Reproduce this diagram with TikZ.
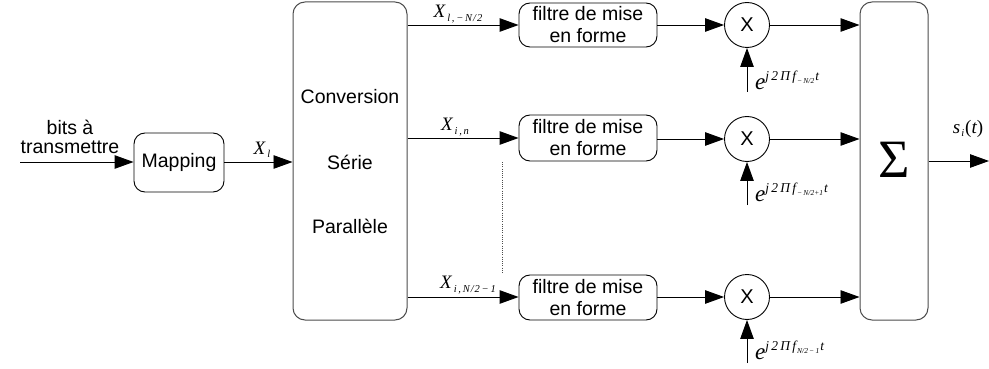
\documentclass[tikz,border=0pt]{standalone}
\usepackage{fontspec}
\setmainfont{Liberation Sans}
\newfontfamily\tms{Liberation Serif}
\usetikzlibrary{arrows.meta}
\newcommand\xlab[1]{{\tms\itshape\fontsize{19}{19}\selectfont X\kern2pt\raisebox{-3.5pt}{\fontsize{10.5}{10.5}\selectfont #1}}}
\newcommand\elab[1]{{\tms\itshape\fontsize{23}{23}\selectfont e\raisebox{9pt}{\fontsize{13.5}{13.5}\selectfont j\,2\,Π\,f\kern1pt\raisebox{-3pt}{\fontsize{7.5}{7.5}\selectfont #1}\kern1pt t}}}
\begin{document}
\begin{tikzpicture}[x=1pt,y=-1pt,
  ln/.style={line width=0.9pt},
  arr/.style={ln,-{Triangle[length=19pt,width=13.5pt]}},
  blk/.style={draw,line width=0.9pt,rounded corners=11pt,font=\fontsize{19.5}{22}\selectfont,align=center,inner sep=0pt},
  big/.style={draw=black!70,line width=1pt,rounded corners=12pt,inner sep=0pt,minimum width=114pt,minimum height=318pt},
  mult/.style={draw,circle,line width=0.9pt,minimum size=45pt,inner sep=0pt,font=\fontsize{20}{20}\selectfont},
  lab/.style={inner sep=0pt}]
\useasboundingbox (0,0) rectangle (989,369);
% input
\node[lab,font=\fontsize{19.5}{19}\selectfont,align=center] (bits) at (70,137) {bits à\\transmettre};
\coordinate (in) at (20,162);
\node[blk,minimum width=90pt,minimum height=59pt] (map) at (179,162.5) {Mapping};
\node[big] (conv) at (350,161) {};
\node[lab,font=\fontsize{19.5}{22}\selectfont] (t1) at (350,97) {Conversion};
\node[lab,font=\fontsize{19.5}{22}\selectfont] (t2) at (350,162) {Série};
\node[lab,font=\fontsize{19.5}{22}\selectfont] (t3) at (350,226) {Parallèle};
\draw[arr] (in) -- (map.west |- in);
\draw[arr] (map.east |- in) -- (conv.west |- in);
\node[lab] (xl) at (262,150) {\xlab{l}};
% filters
\node[blk,minimum width=138pt,minimum height=44pt] (f1) at (588,25) {filtre de mise\\en forme};
\node[blk,minimum width=138pt,minimum height=46pt] (f2) at (588,138) {filtre de mise\\en forme};
\node[blk,minimum width=138pt,minimum height=45pt] (f3) at (588,297.5) {filtre de mise\\en forme};
\coordinate (c1) at (conv.east |- 0,25);
\coordinate (c2) at (conv.east |- 0,138);
\coordinate (c3) at (conv.east |- 0,297);
\draw[arr] (c1) -- (f1.west |- c1);
\draw[arr] (c2) -- (f2.west |- c2);
\draw[arr] (c3) -- (f3.west |- c3);
\node[lab] (x1) at (458,14) {\xlab{l\,,\,−\,N\kern1pt/\kern1pt2}};
\node[lab] (x2) at (455,127) {\xlab{i\,,\,n}};
\node[lab] (x3) at (468,285) {\xlab{i\,,\,N\kern1pt/\kern1pt2\,−\,1}};
\coordinate (d1) at (502,162);
\coordinate (d2) at (502,274);
\draw[line width=0.9pt,black!70,dash pattern=on 1pt off 1.2pt] (d1) -- (d2);
% multipliers
\node[mult] (m1) at (747,25) {X};
\node[mult] (m2) at (747,139) {X};
\node[mult] (m3) at (747,297) {X};
\draw[arr] (f1.east) -- (m1.west);
\draw[arr] (f2.east |- m2) -- (m2.west);
\draw[arr] (f3.east |- m3) -- (m3.west);
\coordinate (e1) at (747,92);
\coordinate (e2) at (747,205);
\coordinate (e3) at (747,363);
\draw[arr] (e1) -- (m1.south);
\draw[arr] (e2) -- (m2.south);
\draw[arr] (e3) -- (m3.south);
\node[lab,anchor=west] (l1) at (755,80) {\elab{−\,N/2}};
\node[lab,anchor=west] (l2) at (755,192) {\elab{−\,N/2+1}};
\node[lab,anchor=west] (l3) at (755,350) {\elab{N/2\,−\,1}};
% sum
\node[big,minimum width=68pt] (sum) at (894,161) {};
\node[lab,font=\tms\fontsize{54}{54}\selectfont] (sig) at (894,160) {Σ};
\draw[arr] (m1.east) -- (sum.west |- m1);
\draw[arr] (m2.east) -- (sum.west |- m2);
\draw[arr] (m3.east) -- (sum.west |- m3);
\coordinate (out) at (989,161);
\draw[arr] (sum.east |- out) -- (out);
\node[lab] (sl) at (968,129) {{\tms\itshape\fontsize{19}{19}\selectfont s\kern1pt\raisebox{-3pt}{\fontsize{10.5}{10.5}\selectfont i}\kern1pt\upshape(\itshape t\upshape)}};
\end{tikzpicture}
\end{document}
